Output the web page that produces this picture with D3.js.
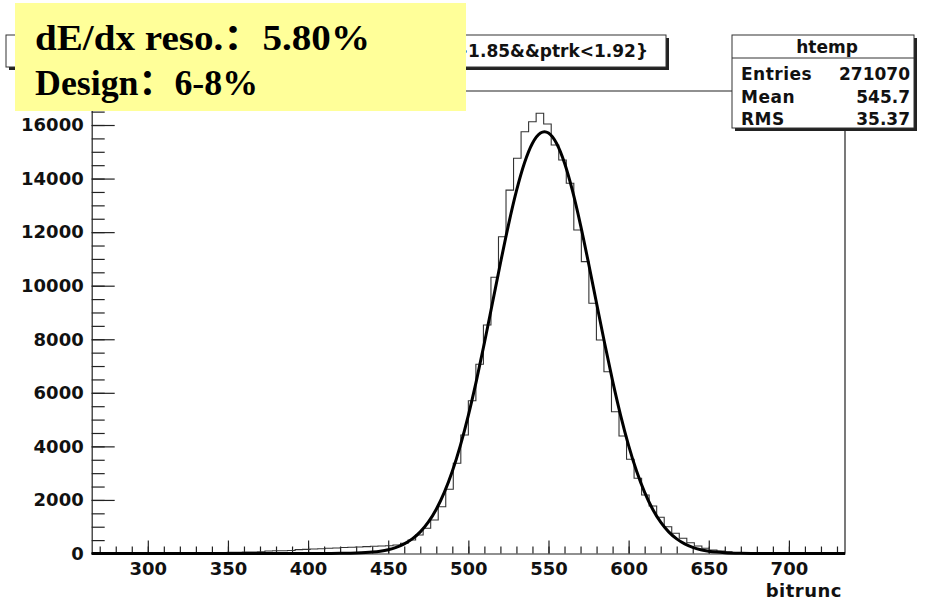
<!DOCTYPE html>
<html lang="zh-CN">
<head>
    <title>bitrunc htemp</title>
    <style>
        body { margin: 0; background: #fff; }
        svg { display: block; }
        .ax text { font-family: "DejaVu Sans", sans-serif; font-weight: bold; font-size: 18px; fill: #111; }
        .ax path, .ax line { stroke: #222; stroke-width: 1.2px; }
        .note text { font-family: 'Liberation Serif', 'Noto Sans CJK SC', 'DejaVu Serif', serif; font-weight: bold; font-size: 36px; fill: #000; }
    </style>
</head>
<body>
    <svg id="chart" width="925" height="604"></svg>
    <script src="https://d3js.org/d3.v7.min.js"></script>
    <script>
        // Histogram binning (100 bins, ROOT default)
        const binStart = 265;
        const binWidth = 4.7;

        // Bin contents
        const counts = [
            8, 8, 10, 10, 12, 12, 14, 15, 16, 18,
            20, 22, 24, 26, 28, 30, 34, 38, 42, 46,
            50, 55, 60, 95, 100, 105, 110, 145, 155, 170,
            175, 195, 205, 225, 235, 245, 255, 270, 280, 290,
            317, 381, 504, 691, 941, 1251, 1748, 2397, 3368, 4425,
            5706, 7065, 8532, 10313, 11830, 13570, 14757, 15750, 16124, 16437,
            16038, 15254, 14694, 13824, 12080, 10900, 9343, 7972, 6789, 5295,
            4388, 3517, 2808, 2184, 1774, 1352, 1001, 754, 568, 403,
            280, 194, 130, 90, 60, 40, 25, 15, 10, 6,
            4, 3, 2, 2, 1, 1, 1, 0, 0, 0
        ];

        // Fitted curve
        const fitX = [265, 400, 410, 420, 430, 440, 445, 450, 455, 460, 465, 470, 475, 480, 485,
            490, 495, 500, 505, 510, 515, 520, 525, 530, 535, 540, 545, 547.5, 550, 555,
            560, 565, 570, 575, 580, 585, 590, 595, 600, 605, 610, 615, 620, 625, 630,
            635, 640, 645, 650, 655, 660, 670, 680, 690, 735];
        const fitY = [0, 0, 1, 5, 17, 52, 87, 143, 229, 357, 545, 808, 1171, 1655, 2284,
            3071, 4031, 5161, 6448, 7859, 9344, 10836, 12263, 13537, 14580, 15318, 15701, 15750, 15701, 15318,
            14580, 13537, 12263, 10836, 9344, 7859, 6448, 5161, 4031, 3071, 2284, 1655, 1171, 808, 545,
            357, 229, 143, 87, 52, 30, 9, 2, 0, 0];

        // Axis ticks
        const xMajor = [300, 350, 400, 450, 500, 550, 600, 650, 700];
        const xMinor = d3.range(270, 735, 10);
        const yMajor = [0, 2000, 4000, 6000, 8000, 10000, 12000, 14000, 16000];
        const yMinor = d3.range(0, 17270, 500);

        // Text content (title is partly hidden by the note box in the original)
        const titleText = ">1.85&&ptrk<1.92}";
        const statsName = "htemp";
        const statsRows = [["Entries", "271070"], ["Mean", "545.7"], ["RMS", "35.37"]];
        const noteLines = ["dE/dx reso.：5.80%", "Design：6-8%"];
        const noteWidths = [335, 223];

        const svg = d3.select("#chart");
        const frameL = 91.7, frameR = 845, frameT = 91, frameB = 553.5;

        const x = d3.scaleLinear().domain([265, 735]).range([frameL, frameR]);
        const y = d3.scaleLinear().domain([0, 17270]).range([frameB, frameT]);

        // Frame (top and right)
        svg.append("path")
            .attr("d", `M${frameL},${frameT}H${frameR}V${frameB}`)
            .attr("fill", "none").attr("stroke", "#222").attr("stroke-width", 1.2);

        // X axis
        svg.append("g").attr("class", "ax")
            .attr("transform", `translate(0,${frameB})`)
            .call(d3.axisBottom(x).tickValues(xMinor).tickSize(-7).tickSizeOuter(0).tickFormat(""))
            .call(g => g.select(".domain").remove());
        svg.append("g").attr("class", "ax")
            .attr("transform", `translate(0,${frameB})`)
            .call(d3.axisBottom(x).tickValues(xMajor).tickSize(-13).tickSizeOuter(0).tickPadding(9));

        svg.append("text")
            .attr("x", 842).attr("y", 597)
            .attr("text-anchor", "end")
            .attr("font-family", "DejaVu Sans, sans-serif")
            .attr("font-weight", "bold").attr("font-size", 18)
            .attr("letter-spacing", 0.5)
            .attr("fill", "#111")
            .text("bitrunc");

        // Y axis
        svg.append("g").attr("class", "ax")
            .attr("transform", `translate(${frameL},0)`)
            .call(d3.axisLeft(y).tickValues(yMinor).tickSize(-13).tickSizeOuter(0).tickFormat(""))
            .call(g => g.select(".domain").remove());
        svg.append("g").attr("class", "ax")
            .attr("transform", `translate(${frameL},0)`)
            .call(d3.axisLeft(y).tickValues(yMajor).tickSize(-23).tickSizeOuter(0).tickPadding(8).tickFormat(d3.format("d")));

        // Histogram outline
        const steps = [[binStart, 0]];
        counts.forEach((c, i) => {
            steps.push([binStart + binWidth * i, c]);
            steps.push([binStart + binWidth * (i + 1), c]);
        });
        steps.push([binStart + binWidth * counts.length, 0]);
        svg.append("path")
            .datum(steps)
            .attr("fill", "none")
            .attr("stroke", "#333")
            .attr("stroke-width", 1.1)
            .attr("d", d3.line().x(d => x(d[0])).y(d => y(d[1])));

        // Fit curve
        svg.append("path")
            .datum(fitX.map((v, i) => [v, fitY[i]]))
            .attr("fill", "none")
            .attr("stroke", "#000")
            .attr("stroke-width", 3)
            .attr("d", d3.line().x(d => x(d[0])).y(d => y(d[1])).curve(d3.curveMonotoneX));

        // Title box with shadow
        svg.append("rect").attr("x", 9).attr("y", 38).attr("width", 660).attr("height", 32).attr("fill", "#222");
        svg.append("rect").attr("x", 6).attr("y", 35).attr("width", 660).attr("height", 32)
            .attr("fill", "#fff").attr("stroke", "#333").attr("stroke-width", 1);
        svg.append("text")
            .attr("x", 648).attr("y", 57)
            .attr("text-anchor", "end")
            .attr("font-family", "DejaVu Sans, sans-serif")
            .attr("font-weight", "bold").attr("font-size", 17)
            .attr("fill", "#111")
            .text(titleText);

        // Stats box with shadow
        svg.append("rect").attr("x", 735).attr("y", 38).attr("width", 182).attr("height", 93).attr("fill", "#222");
        svg.append("rect").attr("x", 732).attr("y", 35).attr("width", 182).attr("height", 93)
            .attr("fill", "#fff").attr("stroke", "#333").attr("stroke-width", 1);
        svg.append("line").attr("x1", 732).attr("x2", 914).attr("y1", 58).attr("y2", 58)
            .attr("stroke", "#333").attr("stroke-width", 1);
        svg.append("text")
            .attr("x", 827).attr("y", 53)
            .attr("text-anchor", "middle")
            .attr("font-family", "DejaVu Sans, sans-serif")
            .attr("font-weight", "bold").attr("font-size", 17)
            .attr("fill", "#111")
            .text(statsName);
        const rows = svg.append("g")
            .attr("font-family", "DejaVu Sans, sans-serif")
            .attr("font-weight", "bold").attr("font-size", 17)
            .attr("fill", "#111");
        statsRows.forEach((r, i) => {
            rows.append("text").attr("x", 741).attr("y", 80 + i * 22.5).attr("letter-spacing", 0.5).text(r[0]);
            rows.append("text").attr("x", 910).attr("y", 80 + i * 22.5).attr("text-anchor", "end").text(r[1]);
        });

        // Yellow note box
        svg.append("rect")
            .attr("x", 15).attr("y", 3).attr("width", 451).attr("height", 108)
            .attr("fill", "#ffff99");
        svg.append("g")
            .attr("class", "note")
            .selectAll("text")
            .data(noteLines)
            .join("text")
            .attr("x", 35)
            .attr("y", (d, i) => 50 + i * 45)
            .attr("textLength", (d, i) => noteWidths[i])
            .attr("lengthAdjust", "spacingAndGlyphs")
            .text(d => d);
    </script>
</body>
</html>
